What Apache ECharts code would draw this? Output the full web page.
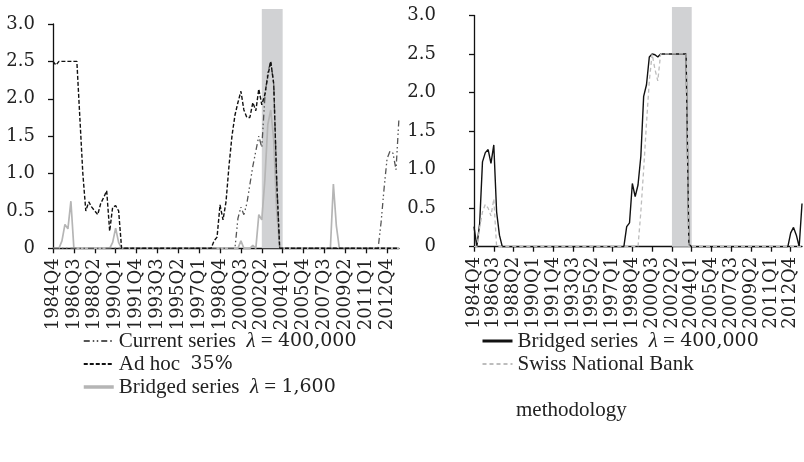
<!DOCTYPE html>
<html><head><meta charset="utf-8">
<script src="https://cdn.jsdelivr.net/npm/echarts@6/dist/echarts.min.js"></script>
<style>html,body{margin:0;padding:0;background:#fff}#c{width:804px;height:462px}</style>
</head><body><div id="c"></div>
<script>
// Quarterly categories 1984Q4 .. 2013Q4 (tick labels)
const quarters = [];
for (let k = 0; k < 117; k++) { const t = 1984 * 4 + 3 + k; quarters.push(Math.floor(t / 4) + 'Q' + (t % 4 + 1)); }
const shadeFrom = '2002Q2', shadeTo = '2004Q1';
const yTicks = [0, 0.5, 1.0, 1.5, 2.0, 2.5, 3.0];

const S1 = 'Current series λ = 400,000';
const S2 = 'Ad hoc 35%';
const S3 = 'Bridged series λ = 1,600';
const S4 = 'Bridged series λ = 400,000';
const S5 = 'Swiss National Bank methodology';

// Left panel
const adHoc = [
 2.5, 2.45, 2.5, 2.5, 2.5, 2.5, 2.5, 2.5, 2.5, 1.75,
 1.0, 0.5, 0.62, 0.55, 0.5, 0.45, 0.6, 0.68, 0.77, 0.23,
 0.55, 0.57, 0.5, 0, 0, 0, 0, 0, 0, 0,
 0, 0, 0, 0, 0, 0, 0, 0, 0, 0,
 0, 0, 0, 0, 0, 0, 0, 0, 0, 0,
 0, 0, 0, 0, 0.1, 0.15, 0.58, 0.38, 0.62, 1.1,
 1.5, 1.78, 1.95, 2.1, 1.85, 1.75, 1.75, 1.95, 1.84, 2.13,
 1.92, 2.05, 2.3, 2.5, 2.2, 0.9, 0, 0, 0, 0,
 0, 0, 0, 0, 0, 0, 0, 0, 0, 0,
 0, 0, 0, 0, 0, 0, 0, 0, 0, 0,
 0, 0, 0, 0, 0, 0, 0, 0, 0, 0,
 0, 0, 0, 0, 0, 0, 0
];
const currentSeries = [
 0, 0, 0, 0, 0, 0, 0, 0, 0, 0,
 0, 0, 0, 0, 0, 0, 0, 0, 0, 0,
 0, 0, 0, 0, 0, 0, 0, 0, 0, 0,
 0, 0, 0, 0, 0, 0, 0, 0, 0, 0,
 0, 0, 0, 0, 0, 0, 0, 0, 0, 0,
 0, 0, 0, 0, 0, 0, 0, 0, 0, 0,
 0, 0, 0.4, 0.55, 0.45, 0.6, 0.85, 1.1, 1.3, 1.5,
 1.35, 2.0, 2.35, 2.5, 2.2, 0.9, 0, 0, 0, 0,
 0, 0, 0, 0, 0, 0, 0, 0, 0, 0,
 0, 0, 0, 0, 0, 0, 0, 0, 0, 0,
 0, 0, 0, 0, 0, 0, 0, 0, 0, 0,
 0.35, 0.8, 1.2, 1.3, 1.27, 1.05, 1.75
];
const bridged1600 = [
 0, 0, 0, 0.1, 0.32, 0.26, 0.63, 0, 0, 0,
 0, 0, 0, 0, 0, 0, 0, 0, 0, 0,
 0.08, 0.27, 0.08, 0, 0, 0, 0, 0, 0, 0,
 0, 0, 0, 0, 0, 0, 0, 0, 0, 0,
 0, 0, 0, 0, 0, 0, 0, 0, 0, 0,
 0, 0, 0, 0, 0, 0, 0, 0, 0, 0,
 0, 0, 0, 0.1, 0, 0, 0, 0.04, 0, 0.45,
 0.38, 0.9, 1.65, 1.85, 1.45, 0.5, 0, 0, 0, 0,
 0, 0, 0, 0, 0, 0, 0, 0, 0, 0,
 0, 0, 0, 0, 0.86, 0.3, 0, 0, 0, 0,
 0, 0, 0, 0, 0, 0, 0, 0, 0, 0,
 0, 0, 0, 0, 0, 0, 0
];
// Right panel
const bridged400k = [
 0.26, 0, 0.3, 1.1, 1.22, 1.26, 1.08, 1.32, 0.45, 0.15,
 0, 0, 0, 0, 0, 0, 0, 0, 0, 0,
 0, 0, 0, 0, 0, 0, 0, 0, 0, 0,
 0, 0, 0, 0, 0, 0, 0, 0, 0, 0,
 0, 0, 0, 0, 0, 0, 0, 0, 0, 0,
 0, 0, 0, 0, 0.26, 0.31, 0.82, 0.65, 0.8, 1.17,
 1.95, 2.1, 2.46, 2.5, 2.49, 2.46, 2.5, 2.5, 2.5, 2.5,
 2.5, 2.5, 2.5, 2.5, 2.5, 2.5, 0.03, 0, 0, 0,
 0, 0, 0, 0, 0, 0, 0, 0, 0, 0,
 0, 0, 0, 0, 0, 0, 0, 0, 0, 0,
 0, 0, 0, 0, 0, 0, 0, 0, 0, 0,
 0, 0, 0.18, 0.25, 0.15, 0, 0.56
];
const snbMethod = [
 0, 0, 0.25, 0.45, 0.55, 0.5, 0.4, 0.62, 0, 0,
 0, 0, 0, 0, 0, 0, 0, 0, 0, 0,
 0, 0, 0, 0, 0, 0, 0, 0, 0, 0,
 0, 0, 0, 0, 0, 0, 0, 0, 0, 0,
 0, 0, 0, 0, 0, 0, 0, 0, 0, 0,
 0, 0, 0, 0, 0, 0, 0, 0, 0, 0.45,
 1.0, 1.6, 2.15, 2.5, 2.3, 2.15, 2.5, 2.5, 2.5, 2.5,
 2.5, 2.5, 2.5, 2.5, 2.5, 2.5, 0, 0, 0, 0,
 0, 0, 0, 0, 0, 0, 0, 0, 0, 0,
 0, 0, 0, 0, 0, 0, 0, 0, 0, 0,
 0, 0, 0, 0, 0, 0, 0, 0, 0, 0,
 0, 0, 0, 0, 0, 0, 0
];

const TXT = '#222';
const SERIF = "'DejaVu Serif', 'Liberation Serif', serif";
const LEG = "'Liberation Serif', serif";

function shadeX(gi) { return { gridIndex: gi, type: 'category', data: quarters, boundaryGap: false, show: false }; }
function shadeY(gi) { return { gridIndex: gi, type: 'value', min: 0, max: 1, show: false }; }
function dataX(gi) {
  return {
    gridIndex: gi, type: 'category', data: quarters, boundaryGap: false,
    axisLine: { lineStyle: { color: '#111', width: 1.3 } },
    axisTick: { interval: 6, length: 5, lineStyle: { color: '#111', width: 1.3 } },
    axisLabel: { interval: 6, rotate: 90, margin: 10, fontFamily: SERIF, fontSize: 18, color: TXT },
    splitLine: { show: false }
  };
}
function dataY(gi, margin) {
  return {
    gridIndex: gi, type: 'value', min: yTicks[0], max: yTicks[yTicks.length - 1], interval: 0.5,
    axisLine: { show: true, lineStyle: { color: '#111', width: 1.3 } },
    axisTick: { show: true, length: 5, lineStyle: { color: '#111', width: 1.3 } },
    axisLabel: { margin: margin, fontFamily: SERIF, fontSize: 18, color: TXT,
      formatter: v => v === 0 ? '0' : v.toFixed(1) },
    splitLine: { show: false }
  };
}
function shade(xi) {
  return {
    type: 'line', xAxisIndex: xi, yAxisIndex: xi, data: [], silent: true, z: 0,
    markArea: { silent: true, itemStyle: { color: '#d1d2d4' }, data: [[{ xAxis: shadeFrom }, { xAxis: shadeTo }]] }
  };
}
function line(name, xi, data, color, width, type, z) {
  return { name, type: 'line', xAxisIndex: xi, yAxisIndex: xi, data, symbol: 'none', showSymbol: false,
    silent: true, z: z, lineStyle: { color, width, type }, itemStyle: { color } };
}

const legendText = {
  [S1]: 'Current series  {i|λ} = {n|400,000}',
  [S2]: 'Ad hoc  {n|35%}',
  [S3]: 'Bridged series  {i|λ} = {n|1,600}',
  [S4]: 'Bridged series  {i|λ} = {n|400,000}',
  [S5]: 'Swiss National Bank'
};
const legTextStyle = { fontFamily: LEG, fontSize: 21, color: TXT, lineHeight: 21,
  rich: {
    i: { fontFamily: LEG, fontStyle: 'italic', fontSize: 21, color: TXT },
    n: { fontFamily: SERIF, fontSize: 19, color: TXT }
  } };
const hideSym = { color: 'rgba(0,0,0,0)', borderWidth: 0, opacity: 0 };

const chart = echarts.init(document.getElementById('c'), null, { renderer: 'canvas' });
chart.setOption({
  animation: false,
  backgroundColor: '#fff',
  grid: [
    { left: 53, top: 9, width: 346, height: 239.3 },
    { left: 53, top: 24, width: 346, height: 224.3 },
    { left: 474, top: 7, width: 328, height: 239.7 },
    { left: 474, top: 15.4, width: 328, height: 231.3 }
  ],
  xAxis: [shadeX(0), dataX(1), shadeX(2), dataX(3)],
  yAxis: [shadeY(0), dataY(1, 18), shadeY(2), dataY(3, 38)],
  legend: [
    { orient: 'vertical', left: 77, top: 325.5, itemWidth: 30, itemHeight: 14, itemGap: 2, selectedMode: false,
      itemStyle: hideSym,
      data: [{ name: S1, lineStyle: { width: 2 } }, { name: S2, lineStyle: { width: 2 } }, { name: S3, lineStyle: { width: 3.5 } }],
      formatter: n => legendText[n], textStyle: legTextStyle },
    { orient: 'vertical', left: 476, top: 325.5, itemWidth: 30, itemHeight: 14, itemGap: 2, selectedMode: false,
      itemStyle: hideSym,
      data: [{ name: S4, lineStyle: { width: 3 } }, { name: S5, lineStyle: { width: 2 } }],
      formatter: n => legendText[n], textStyle: legTextStyle }
  ],
  graphic: [
    { type: 'text', left: 516, top: 400, silent: true,
      style: { text: 'methodology', font: "21px 'Liberation Serif'", fill: TXT } }
  ],
  series: [
    shade(0),
    line(S3, 1, bridged1600, '#b5b5b5', 1.7, 'solid', 2),
    line(S1, 1, currentSeries, '#555', 1.3, [6, 3, 1.5, 2.5, 1.5, 3], 3),
    line(S2, 1, adHoc, '#111', 1.4, [4, 2], 4),
    shade(2),
    line(S4, 3, bridged400k, '#111', 1.4, 'solid', 2),
    line(S5, 3, snbMethod, '#bdbdbd', 1.3, [4, 3], 3)
  ]
});
</script></body></html>
